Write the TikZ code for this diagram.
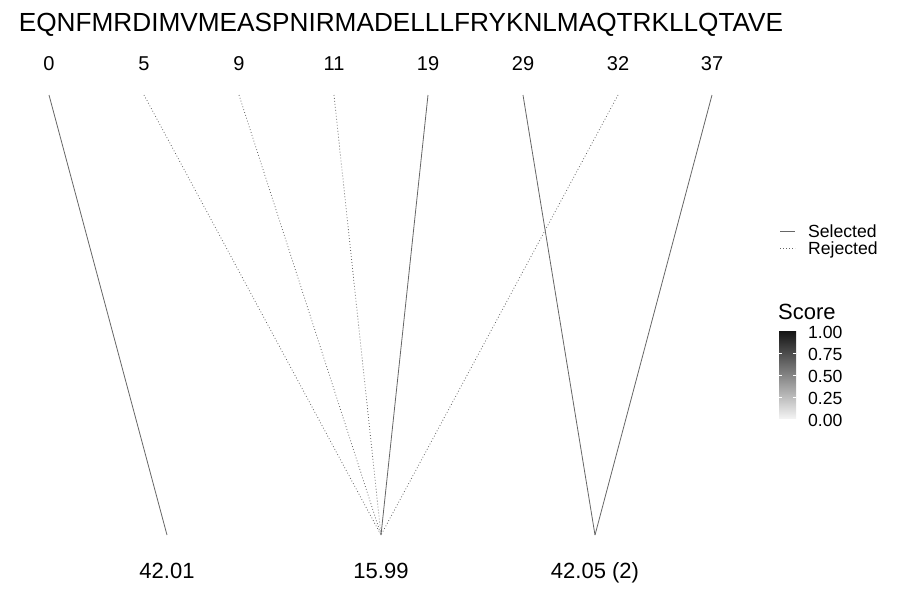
\documentclass[tikz,border=0pt]{standalone}
\usepackage{fontspec}
\setmainfont{Liberation Sans}

\begin{document}
\begin{tikzpicture}[x=1pt,y=-1pt,
    sel/.style={draw=black!60, line width=0.8pt},
    rej/.style={draw=black!60, line width=0.8pt, dash pattern=on 0.8pt off 2.2pt},
    poslabel/.style={font=\fontsize{20}{24}\selectfont, inner sep=0pt},
    score/.style={font=\fontsize{22}{26}\selectfont, inner sep=0pt, anchor=base},
    key/.style={font=\fontsize{17.6}{21}\selectfont, inner sep=0pt, anchor=base west}]
      \useasboundingbox (0,0) rectangle (900,600);
      \node [font=\fontsize{26.2}{30}\selectfont, inner sep=0pt, anchor=base] (seq) at (401,31) {EQNFMRDIMVMEASPNIRMADELLLFRYKNLMAQTRKLLQTAVE};
      \node [poslabel] (p0) at (49,64) {0};
      \node [poslabel] (p5) at (144,64) {5};
      \node [poslabel] (p9) at (239,64) {9};
      \node [poslabel] (p11) at (334,64) {11};
      \node [poslabel] (p19) at (428,64) {19};
      \node [poslabel] (p29) at (523,64) {29};
      \node [poslabel] (p32) at (618,64) {32};
      \node [poslabel] (p37) at (712,64) {37};
      \coordinate (t0) at (49,95);
      \coordinate (t5) at (144,95);
      \coordinate (t9) at (239,95);
      \coordinate (t11) at (334,95);
      \coordinate (t19) at (428,95);
      \coordinate (t29) at (523,95);
      \coordinate (t32) at (618,95);
      \coordinate (t37) at (712,95);
      \coordinate (b1) at (167,535);
      \coordinate (b2) at (381,535);
      \coordinate (b3) at (595,535);
      \node [score] (s1) at (167,578) {42.01};
      \node [score] (s2) at (381,578) {15.99};
      \node [score] (s3) at (595,578) {42.05 (2)};
      \draw [sel] (t0) -- (b1);
      \draw [rej] (t5) -- (b2);
      \draw [rej] (t9) -- (b2);
      \draw [rej] (t11) -- (b2);
      \draw [sel] (t19) -- (b2);
      \draw [rej] (t32) -- (b2);
      \draw [sel] (t29) -- (b3);
      \draw [sel] (t37) -- (b3);
      \coordinate (k1) at (780,231);
      \coordinate (k2) at (780,248);
      \draw [sel] (k1) -- ++(15,0);
      \draw [rej] (k2) -- ++(15,0);
      \node [key, text height=12.5pt, text depth=0pt] (selected) at (808,237.3) {Selected};
      \node [key, text height=12.5pt, text depth=3pt] (rejected) at (808,254.3) {Rejected};
      \node [font=\fontsize{22}{26}\selectfont, inner sep=0pt, anchor=west] (title) at (778,312) {Score};
      \shade [top color=black!92, bottom color=black!5] (779,331) rectangle (796,418);
      \draw [white, line width=0.8pt] (779,353.5) -- ++(3,0) (793,353.5) -- ++(3,0);
      \draw [white, line width=0.8pt] (779,375.5) -- ++(3,0) (793,375.5) -- ++(3,0);
      \draw [white, line width=0.8pt] (779,397.5) -- ++(3,0) (793,397.5) -- ++(3,0);
      \node [key] (v100) at (808,338.3) {1.00};
      \node [key] (v075) at (808,360.3) {0.75};
      \node [key] (v050) at (808,382.3) {0.50};
      \node [key] (v025) at (808,404.3) {0.25};
      \node [key] (v000) at (808,426.3) {0.00};
    \end{tikzpicture}
\end{document}
